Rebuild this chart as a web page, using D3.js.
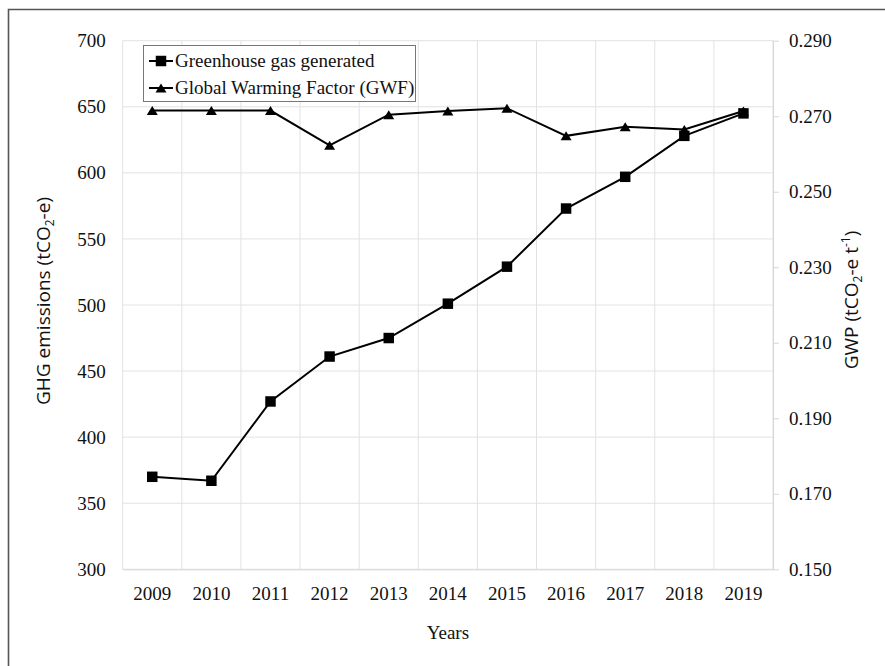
<!DOCTYPE html>
<html>
<head>
<meta charset="utf-8">
<script src="https://cdn.jsdelivr.net/npm/d3@7"></script>
<style>
  body { margin: 0; background: #fff; }
  text { font-family: "Liberation Serif", "Times New Roman", serif; fill: #111; }
  .ttl { font-family: "Open Sans", "Noto Sans", sans-serif; }
</style>
</head>
<body>
<div id="chart"></div>
<script>
// chart values
var years = ['2009', '2010', '2011', '2012', '2013', '2014', '2015', '2016', '2017', '2018', '2019'];
var ghgValues = [370, 367, 427, 461, 475, 501, 529, 573, 597, 628, 645];
var gwfValues = [0.2715, 0.2715, 0.2715, 0.2623, 0.2704, 0.2714, 0.2721, 0.2648, 0.2672, 0.2665, 0.2714];
var leftTicks = [300, 350, 400, 450, 500, 550, 600, 650, 700];
var rightTicks = [0.150, 0.170, 0.190, 0.210, 0.230, 0.250, 0.270, 0.290];
var seriesNames = ['Greenhouse gas generated', 'Global Warming Factor (GWF)'];

var W = 885, H = 666;
var plotLeft = 122.7, plotRight = 773, plotTop = 40.7, plotBottom = 569.3;

var svg = d3.select('#chart').append('svg').attr('width', W).attr('height', H);
svg.append('rect').attr('width', W).attr('height', H).attr('fill', '#fff');

// outer frame (only top and left edges fall inside the picture)
svg.append('path')
    .attr('d', 'M8.5,' + H + 'V9.5H' + W)
    .attr('fill', 'none').attr('stroke', '#555').attr('stroke-width', 1.6);

var x = d3.scaleBand().domain(years).range([plotLeft, plotRight]);
var yL = d3.scaleLinear().domain([300, 700]).range([plotBottom, plotTop]);
var yR = d3.scaleLinear().domain([0.150, 0.290]).range([plotBottom, plotTop]);

var grid = '#e2e2e2';

// horizontal gridlines
svg.append('g').selectAll('line').data(leftTicks).enter().append('line')
    .attr('x1', plotLeft).attr('x2', plotRight)
    .attr('y1', function(d) { return yL(d); }).attr('y2', function(d) { return yL(d); })
    .attr('stroke', grid).attr('stroke-width', 1);

// vertical gridlines at category boundaries
var bounds = years.map(function(d) { return x(d); }).concat([plotRight]);
svg.append('g').selectAll('line').data(bounds).enter().append('line')
    .attr('x1', function(d) { return d; }).attr('x2', function(d) { return d; })
    .attr('y1', plotTop).attr('y2', plotBottom)
    .attr('stroke', grid).attr('stroke-width', 1);

// left axis labels
var gl = svg.append('g').attr('transform', 'translate(' + plotLeft + ',0)')
    .call(d3.axisLeft(yL).tickValues(leftTicks).tickSize(0).tickPadding(17));
gl.select('.domain').remove();
gl.selectAll('text').attr('font-size', 19).attr('font-family', '"Liberation Serif", serif').attr('fill', '#111');

// right axis
var gr = svg.append('g').attr('transform', 'translate(' + plotRight + ',0)')
    .call(d3.axisRight(yR).tickValues(rightTicks).tickSize(6).tickSizeOuter(0).tickPadding(10)
        .tickFormat(d3.format('.3f')));
gr.select('.domain').attr('stroke', '#d6d6d6');
gr.selectAll('.tick line').attr('stroke', '#d6d6d6');
gr.selectAll('text').attr('font-size', 19).attr('font-family', '"Liberation Serif", serif').attr('fill', '#111');

// bottom axis
var gb = svg.append('g').attr('transform', 'translate(0,' + plotBottom + ')')
    .call(d3.axisBottom(x).tickSize(0).tickPadding(17));
gb.select('.domain').attr('stroke', '#d6d6d6');
gb.selectAll('text').attr('font-size', 19).attr('font-family', '"Liberation Serif", serif').attr('fill', '#111');

// axis titles
svg.append('text').attr('x', (plotLeft + plotRight) / 2).attr('y', 639)
    .attr('text-anchor', 'middle').attr('font-size', 19).text('Years');

var tl = svg.append('text').attr('class', 'ttl')
    .attr('transform', 'translate(50,301) rotate(-90)')
    .attr('text-anchor', 'middle').attr('font-size', 19);
tl.append('tspan').text('GHG emissions (tCO');
tl.append('tspan').attr('font-size', 12).attr('dy', 4).text('2');
tl.append('tspan').attr('dy', -4).text('-e)');

var tr = svg.append('text').attr('class', 'ttl')
    .attr('transform', 'translate(858,300) rotate(-90)')
    .attr('text-anchor', 'middle').attr('font-size', 19);
tr.append('tspan').text('GWP (tCO');
tr.append('tspan').attr('font-size', 12).attr('dy', 4).text('2');
tr.append('tspan').attr('dy', -4).text('-e t');
tr.append('tspan').attr('font-size', 12).attr('dy', -8).text('-1');
tr.append('tspan').attr('dy', 8).text(')');

// marker shapes
var tri = {
    draw: function(ctx, size) {
        var w = Math.sqrt(size) * 1.1, h = w * 0.82;
        ctx.moveTo(0, -h / 2);
        ctx.lineTo(w / 2, h / 2);
        ctx.lineTo(-w / 2, h / 2);
        ctx.closePath();
    }
};
var squareShape = d3.symbol().type(d3.symbolSquare).size(110);
var triShape = d3.symbol().type(tri).size(100);

var cx = function(d, i) { return x(years[i]) + x.bandwidth() / 2; };

// GWF line (right axis)
svg.append('path').datum(gwfValues)
    .attr('fill', 'none').attr('stroke', '#000').attr('stroke-width', 2)
    .attr('d', d3.line().x(cx).y(function(d) { return yR(d); }));
svg.append('g').selectAll('path').data(gwfValues).enter().append('path')
    .attr('d', triShape)
    .attr('transform', function(d, i) { return 'translate(' + cx(d, i) + ',' + yR(d) + ')'; })
    .attr('fill', '#000');

// GHG line (left axis)
svg.append('path').datum(ghgValues)
    .attr('fill', 'none').attr('stroke', '#000').attr('stroke-width', 2)
    .attr('d', d3.line().x(cx).y(function(d) { return yL(d); }));
svg.append('g').selectAll('path').data(ghgValues).enter().append('path')
    .attr('d', squareShape)
    .attr('transform', function(d, i) { return 'translate(' + cx(d, i) + ',' + yL(d) + ')'; })
    .attr('fill', '#000');

// legend
var lg = svg.append('g');
lg.append('rect').attr('x', 143.5).attr('y', 45.5).attr('width', 272).attr('height', 56)
    .attr('fill', '#fff').attr('stroke', '#777').attr('stroke-width', 1);
var rows = lg.selectAll('g').data(seriesNames).enter().append('g')
    .attr('transform', function(d, i) { return 'translate(0,' + (61 + i * 27) + ')'; });
rows.append('line').attr('x1', 149).attr('x2', 173).attr('y1', 0).attr('y2', 0)
    .attr('stroke', '#000').attr('stroke-width', 2);
rows.append('path')
    .attr('d', function(d, i) { return i === 0 ? squareShape() : triShape(); })
    .attr('transform', 'translate(161,0)').attr('fill', '#000');
rows.append('text').attr('x', 175).attr('y', 0).attr('dy', '0.33em')
    .attr('font-size', 19).text(function(d) { return d; });
</script>
</body>
</html>
